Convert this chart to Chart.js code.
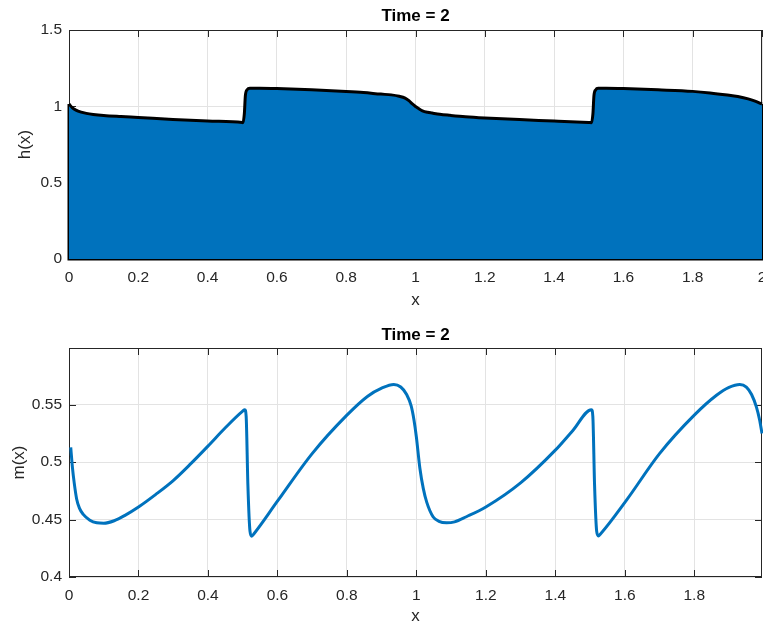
<!DOCTYPE html>
<html>
<head>
<meta charset="utf-8">
<script src="https://cdn.jsdelivr.net/npm/chart.js@4.4.1/dist/chart.umd.min.js"></script>
<style>
  html, body { margin: 0; padding: 0; background: #fff; }
  #wrap { position: relative; width: 763px; height: 628px; }
  .panel { position: absolute; left: 0; width: 763px; height: 314px; }
</style>
</head>
<body>
<div id="wrap">
  <div class="panel" style="top:0"><canvas id="hChart" width="763" height="314"></canvas></div>
  <div class="panel" style="top:314px"><canvas id="mChart" width="763" height="314"></canvas></div>
</div>
<script>
// h(x) at Time = 2
const hX = [0, 0.01, 0.02, 0.035, 0.05, 0.07, 0.1, 0.15, 0.2, 0.3, 0.4, 0.5, 0.502,
  0.506, 0.509, 0.514, 0.522, 0.55, 0.6, 0.7, 0.8, 0.85, 0.9, 0.93, 0.953, 0.97, 0.981,
  0.99, 1.0, 1.01, 1.02, 1.035, 1.048, 1.07, 1.1, 1.144, 1.2, 1.3, 1.4, 1.5, 1.508,
  1.512, 1.515, 1.52, 1.527, 1.55, 1.6, 1.7, 1.8, 1.85, 1.9, 1.93, 1.96, 1.98, 2.0];
const hY = [1.015, 0.99, 0.975, 0.962, 0.954, 0.947, 0.94, 0.933, 0.927, 0.914, 0.904, 0.894, 0.893,
  0.95, 1.07, 1.108, 1.118, 1.118, 1.116, 1.108, 1.097, 1.09, 1.08, 1.075, 1.066, 1.054, 1.037,
  1.017, 0.999, 0.984, 0.971, 0.961, 0.956, 0.948, 0.941, 0.932, 0.924, 0.913, 0.904, 0.894, 0.893,
  0.95, 1.07, 1.108, 1.118, 1.118, 1.116, 1.108, 1.098, 1.088, 1.074, 1.064, 1.049, 1.034, 1.015];

// m(x) at Time = 2
const mX = [0.005, 0.01, 0.015, 0.022, 0.03, 0.041, 0.06, 0.08, 0.1, 0.13, 0.16, 0.2, 0.25,
  0.3, 0.35, 0.4, 0.45, 0.5, 0.506, 0.51, 0.515, 0.521, 0.526, 0.532, 0.6, 0.7, 0.8, 0.86,
  0.9, 0.935, 0.955, 0.972, 0.985, 0.993, 1.0, 1.01, 1.02, 1.03, 1.048, 1.065, 1.087, 1.11,
  1.144, 1.2, 1.3, 1.4, 1.45, 1.504, 1.508, 1.513, 1.519, 1.524, 1.53, 1.605, 1.7, 1.8,
  1.864, 1.9, 1.931, 1.95, 1.965, 1.979, 1.988, 1.995];
const mY = [0.513, 0.495, 0.482, 0.468, 0.46, 0.4545, 0.4495, 0.4472, 0.4468, 0.449, 0.4535, 0.461, 0.472,
  0.484, 0.4985, 0.514, 0.53, 0.5445, 0.5458, 0.54, 0.48, 0.44, 0.4355, 0.4375, 0.466, 0.5075, 0.541, 0.5575,
  0.5645, 0.5678, 0.5655, 0.559, 0.549, 0.537, 0.522, 0.495, 0.477, 0.465, 0.4525, 0.4485, 0.4472, 0.448,
  0.4525, 0.461, 0.482, 0.5105, 0.5275, 0.5458, 0.54, 0.48, 0.44, 0.4358, 0.4375, 0.467, 0.5075, 0.541,
  0.5583, 0.5652, 0.5678, 0.5655, 0.559, 0.548, 0.537, 0.525];

const xTicks = [0, 0.2, 0.4, 0.6, 0.8, 1, 1.2, 1.4, 1.6, 1.8, 2];
const hTicks = [0, 0.5, 1, 1.5];
const mTicks = [0.4, 0.45, 0.5, 0.55];

const FONT = '"Liberation Sans", Arial, Helvetica, sans-serif';
const AXIS = '#262626';
const BLUE = '#0072BD';

// MATLAB style box with inward ticks
const boxPlugin = {
  id: 'box',
  beforeDatasetsDraw(chart) {
    const { ctx, chartArea: a, scales: { x, y } } = chart;
    ctx.save();
    ctx.strokeStyle = AXIS;
    ctx.lineWidth = 1;
    ctx.strokeRect(a.left + 0.5, a.top + 0.5, a.right - a.left - 1, a.bottom - a.top - 1);
    ctx.beginPath();
    x.ticks.forEach(t => {
      const p = Math.round(x.getPixelForValue(t.value)) + 0.5;
      ctx.moveTo(p, a.bottom); ctx.lineTo(p, a.bottom - 7);
      ctx.moveTo(p, a.top); ctx.lineTo(p, a.top + 7);
    });
    y.ticks.forEach(t => {
      const p = Math.round(y.getPixelForValue(t.value)) + 0.5;
      ctx.moveTo(a.left, p); ctx.lineTo(a.left + 7, p);
      ctx.moveTo(a.right, p); ctx.lineTo(a.right - 7, p);
    });
    ctx.stroke();
    ctx.restore();
  }
};

function fmt(v) {
  return String(Math.round(v * 1000) / 1000);
}

function makeOptions(o) {
  return {
    responsive: false,
    animation: false,
    devicePixelRatio: 1,
    layout: { padding: { left: 0, right: 1, top: 0, bottom: 0 } },
    plugins: {
      legend: { display: false },
      tooltip: { enabled: false },
      title: {
        display: true,
        text: 'Time = 2',
        fullSize: false,
        color: '#000',
        font: { family: FONT, size: 17, weight: 'bold', lineHeight: 1.2 },
        padding: o.titlePad
      }
    },
    scales: {
      x: {
        type: 'linear',
        min: 0,
        max: o.xMax,
        afterBuildTicks: s => { s.ticks = xTicks.filter(v => v <= o.xMax).map(v => ({ value: v })); },
        afterFit: s => { s.height = o.xHeight; s.paddingLeft = 0; s.paddingRight = 0; },
        grid: { color: '#e3e3e3', drawTicks: false },
        border: { display: false },
        ticks: {
          color: AXIS, padding: 9, maxRotation: 0, autoSkip: false,
          font: { family: FONT, size: 15.5 },
          callback: v => fmt(v)
        },
        title: {
          display: true, text: 'x', color: AXIS,
          font: { family: FONT, size: 17, lineHeight: 1.2 },
          padding: { top: 0, bottom: o.xTitleBottom }
        }
      },
      y: {
        min: o.yMin,
        max: o.yMax,
        afterBuildTicks: s => { s.ticks = o.yTicks.map(v => ({ value: v })); },
        afterFit: s => { s.width = 69; s.paddingTop = 0; s.paddingBottom = 0; },
        grid: { color: '#e3e3e3', drawTicks: false },
        border: { display: false },
        ticks: {
          color: AXIS, padding: 7, autoSkip: false,
          font: { family: FONT, size: 15.5 },
          callback: v => fmt(v)
        },
        title: {
          display: true, text: o.yLabel, color: AXIS,
          font: { family: FONT, size: 17, lineHeight: 1.2 },
          padding: { top: o.yTitleLeft, bottom: 0 }
        }
      }
    }
  };
}

const hPoints = hX.map((x, i) => ({ x, y: hY[i] }));
const last = hX.length - 1;

new Chart(document.getElementById('hChart'), {
  type: 'line',
  data: {
    datasets: [
      {
        data: hPoints,
        fill: 'origin',
        backgroundColor: BLUE,
        borderColor: '#000',
        borderWidth: 3,
        pointRadius: 0,
        cubicInterpolationMode: 'monotone',
        clip: 4
      },
      {
        // patch outline: the sides and the base
        data: [
          { x: hX[0], y: hY[0] }, { x: hX[0], y: 0 },
          { x: hX[last], y: 0 }, { x: hX[last], y: hY[last] }
        ],
        fill: false,
        borderColor: '#000',
        borderWidth: 3,
        pointRadius: 0,
        tension: 0,
        clip: 4
      }
    ]
  },
  options: makeOptions({
    xMax: 2, yMin: 0, yMax: 1.5, yTicks: hTicks, yLabel: 'h(x)',
    xHeight: 55, xTitleBottom: 3.5, yTitleLeft: 15,
    titlePad: { top: 5.8, bottom: 3.8 }
  }),
  plugins: [boxPlugin]
});

new Chart(document.getElementById('mChart'), {
  type: 'line',
  data: {
    datasets: [{
      data: mX.map((x, i) => ({ x, y: mY[i] })),
      fill: false,
      borderColor: BLUE,
      borderWidth: 3,
      pointRadius: 0,
      cubicInterpolationMode: 'monotone',
      clip: 2
    }]
  },
  options: makeOptions({
    xMax: 1.995, yMin: 0.4, yMax: 0.5995, yTicks: mTicks, yLabel: 'm(x)',
    xHeight: 51, xTitleBottom: 1, yTitleLeft: 9,
    titlePad: { top: 10.8, bottom: 2.8 }
  }),
  plugins: [boxPlugin]
});
</script>
</body>
</html>
